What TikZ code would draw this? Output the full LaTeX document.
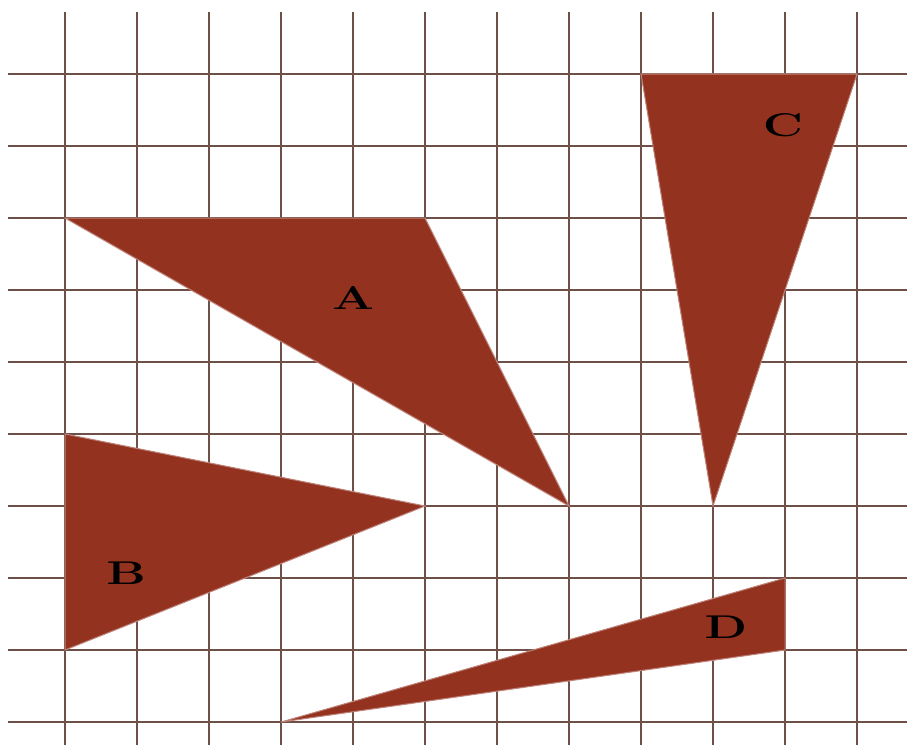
\documentclass[tikz,border=0pt]{standalone}
\usepackage{tikz}
\usepackage{xcolor}
\usetikzlibrary{positioning}

\definecolor{gridbrown}{RGB}{110,80,72}
\definecolor{tribrown}{RGB}{148,50,32}

\begin{document}
\begin{tikzpicture}[
  gridline/.style={draw=gridbrown, line width=0.6pt},
  tri/.style={fill=tribrown, draw=tribrown!60!white, line width=0.4pt},
  lbl/.style={font=\fontsize{13}{13}\selectfont\bfseries, xscale=1.5, text=black}
]
  \useasboundingbox (-0.903,-0.319) rectangle (11.694,10.028);
  % grid
  \foreach \i in {0,...,11}
    \draw[gridline] (\i,-0.319) -- (\i,9.861);
  \foreach \j in {0,...,9}
    \draw[gridline] (-0.792,\j) -- (11.694,\j);
  % triangles
  \filldraw[tri] (0,7) -- (5,7) -- (7,3) -- cycle;
  \filldraw[tri] (0,4) -- (5,3) -- (0,1) -- cycle;
  \filldraw[tri] (8,9) -- (11,9) -- (9,3) -- cycle;
  \filldraw[tri] (3,0) -- (10,2) -- (10,1) -- cycle;
  % labels
  \node[lbl] (la) at (4,5.89) {A};
  \node[lbl] (lb) at (0.85,2.06) {B};
  \node[lbl] (lc) at (9.97,8.29) {C};
  \node[lbl] (ld) at (9.18,1.31) {D};
\end{tikzpicture}
\end{document}
